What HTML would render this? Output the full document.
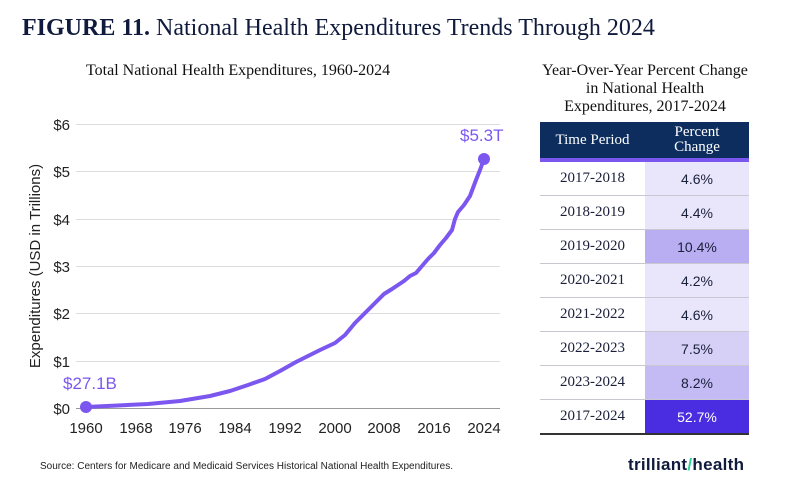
<!DOCTYPE html>
<html><head><meta charset="utf-8"><style>
body{margin:0;width:800px;height:496px;background:#fff;overflow:hidden;font-family:"Liberation Sans",sans-serif;position:relative}
.ser{font-family:"Liberation Serif",serif}
table{border-collapse:collapse;position:absolute;left:540px;top:122px;width:209px;table-layout:fixed}
td{height:33px;text-align:center;font-size:15px;color:#1a1f3a;border-bottom:1px solid #c8c8d0;padding:0}
td.p{font-family:"Liberation Sans",sans-serif;font-size:14px}
</style></head><body>
<div class="ser" style="position:absolute;left:22px;top:15px;font-size:24px;color:#0f1a3c"><b>FIGURE 11.</b> National Health Expenditures Trends Through 2024</div>
<div class="ser" style="position:absolute;left:86px;top:62px;font-size:16px;color:#111">Total National Health Expenditures, 1960-2024</div>
<div class="ser" style="position:absolute;left:505px;top:62px;width:280px;text-align:center;font-size:16px;line-height:18px;color:#111">Year-Over-Year Percent Change<br>in National Health<br>Expenditures, 2017-2024</div>
<svg width="800" height="496" style="position:absolute;left:0;top:0">
<g stroke="#ddd" stroke-width="1">
<line x1="76" x2="500" y1="124.5" y2="124.5"/><line x1="76" x2="500" y1="171.5" y2="171.5"/><line x1="76" x2="500" y1="219.5" y2="219.5"/><line x1="76" x2="500" y1="266.5" y2="266.5"/><line x1="76" x2="500" y1="313.5" y2="313.5"/><line x1="76" x2="500" y1="361.5" y2="361.5"/></g>
<line x1="76" x2="500" y1="408.5" y2="408.5" stroke="#999"/>
<g font-size="15" fill="#222" text-anchor="end">
<text x="70" y="130">$6</text><text x="70" y="177">$5</text><text x="70" y="225">$4</text><text x="70" y="272">$3</text><text x="70" y="319">$2</text><text x="70" y="367">$1</text><text x="70" y="414">$0</text></g>
<g font-size="15" fill="#222" text-anchor="middle">
<text x="86" y="433">1960</text><text x="136" y="433">1968</text><text x="185" y="433">1976</text><text x="235" y="433">1984</text><text x="285" y="433">1992</text><text x="335" y="433">2000</text><text x="384" y="433">2008</text><text x="434" y="433">2016</text><text x="484" y="433">2024</text></g>
<text transform="translate(40,266) rotate(-90)" font-size="15" fill="#222" text-anchor="middle">Expenditures (USD in Trillions)</text>
<polyline fill="none" stroke="#7b57f0" stroke-width="4" stroke-linejoin="round" points="86,407 148,404 180,401 210,396 230,391 248,385 265,379 280,371 296,362 310,355 320,350 335,343 345,335 355,323 366,312 376,302 384,294 392,289 398,285 404,281 410,276 416,273 422,266 428,259 434,253 440,245 446,238 452,230 455,219 458,212 464,205 470,196 476,180 480,170 484,159"/>
<circle cx="86" cy="407" r="6" fill="#7b57f0"/><circle cx="484" cy="159" r="6" fill="#7b57f0"/>
<text x="63" y="389" font-size="17" fill="#7b57f0">$27.1B</text>
<text x="460" y="141" font-size="17" fill="#7b57f0">$5.3T</text>
</svg>
<table>
<colgroup><col style="width:105px"><col style="width:104px"></colgroup>
<tr><td class="ser" style="background:#0c2d5e;color:#fff;height:36px;border-bottom:4px solid #7b57f0">Time Period</td><td class="ser" style="background:#0c2d5e;color:#fff;line-height:15px;border-bottom:4px solid #7b57f0">Percent<br>Change</td></tr>
<tr><td class="ser">2017-2018</td><td class="p" style="background:#e9e6fb">4.6%</td></tr>
<tr><td class="ser">2018-2019</td><td class="p" style="background:#e9e6fb">4.4%</td></tr>
<tr><td class="ser">2019-2020</td><td class="p" style="background:#b8aef1">10.4%</td></tr>
<tr><td class="ser">2020-2021</td><td class="p" style="background:#e9e6fb">4.2%</td></tr>
<tr><td class="ser">2021-2022</td><td class="p" style="background:#e9e6fb">4.6%</td></tr>
<tr><td class="ser">2022-2023</td><td class="p" style="background:#d6d0f7">7.5%</td></tr>
<tr><td class="ser">2023-2024</td><td class="p" style="background:#c4bbf4">8.2%</td></tr>
<tr><td class="ser" style="border-bottom:2px solid #333">2017-2024</td><td class="p" style="background:#4a2de0;color:#fff;border-bottom:2px solid #333">52.7%</td></tr>
</table>
<div style="position:absolute;left:40px;top:461px;font-size:10px;color:#222">Source: Centers for Medicare and Medicaid Services Historical National Health Expenditures.</div>
<div style="position:absolute;left:628px;top:455px;font-size:17px;font-weight:bold;color:#0f1a3c;letter-spacing:0.3px">trilliant<span style="color:#2fd39a">/</span>health</div>
</body></html>
